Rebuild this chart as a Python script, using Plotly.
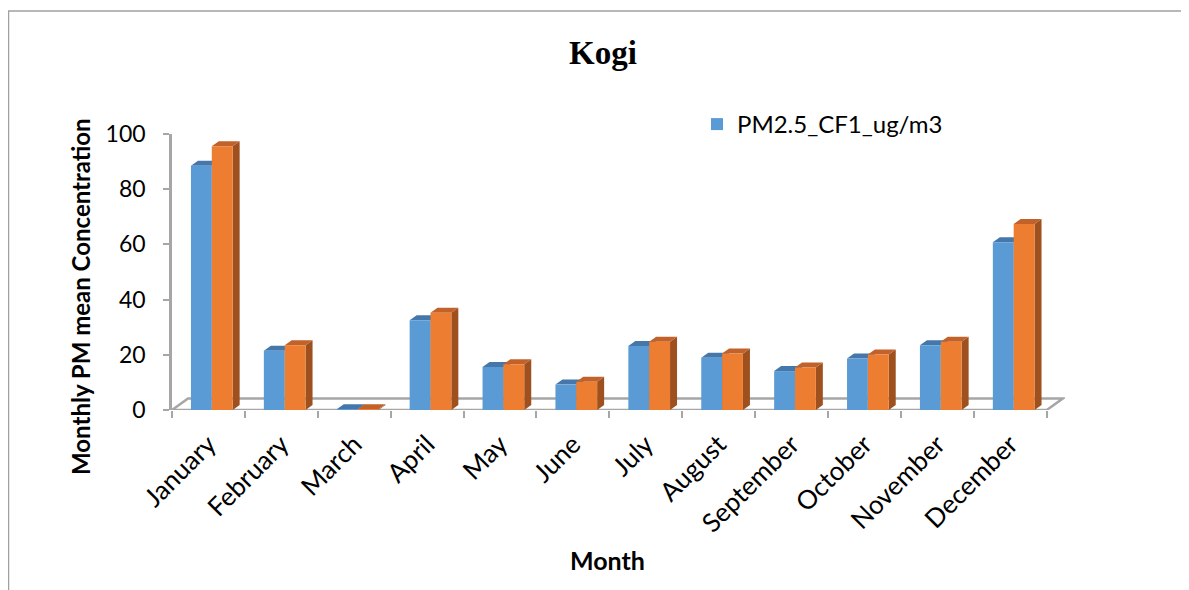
import numpy as np
import plotly.graph_objects as go

# ---- data ----
months = ["January", "February", "March", "April", "May", "June", "July",
          "August", "September", "October", "November", "December"]
pm25_cf1 = [88.5, 21.5, 0.3, 32.5, 15.6, 9.2, 23.2, 18.9, 14.1, 18.7, 23.5, 60.8]
series2 = [95.6, 23.5, 0.3, 35.2, 16.6, 10.2, 24.7, 20.5, 15.4, 20.1, 24.7, 67.4]
y_ticks = [0, 20, 40, 60, 80, 100]

# ---- layout geometry (page pixels; figure starts at body margin 8px) ----
OFF = 8
PW, PH = 1189, 590
W, H = PW - OFF, PH - OFF
L, R, T, B = 172, 1065, 134, 410
XR = [-0.5, 11.75]
YR = [0, 100]
pxu_x = (R - L) / (XR[1] - XR[0])
pxu_y = (B - T) / (YR[1] - YR[0])

def px2paper_x(px):
    return (px - L) / (R - L)

def px2paper_y(py):
    return (B - py) / (B - T)

BLUE, BLUE_TOP, BLUE_SIDE = "#5B9BD5", "#4677AB", "#3E6A98"
ORANGE, ORANGE_TOP, ORANGE_SIDE = "#ED7D31", "#C0622A", "#9E501E"
GRAY = "#A6A6A6"
FONT = "Lato"

bar_w = 0.286
off_blue = -0.24
off_orange = off_blue + bar_w
ddx = 7 / pxu_x   # depth offset in data units
ddy = 5 / pxu_y

x = np.arange(len(months))

fig = go.Figure()
fig.add_trace(go.Bar(x=x, y=pm25_cf1, name="PM2.5_CF1_ug/m3", marker_color=BLUE,
                     marker_line_width=0, width=bar_w, offset=off_blue))
fig.add_trace(go.Bar(x=x, y=series2, name="Series 2", marker_color=ORANGE,
                     marker_line_width=0, width=bar_w, offset=off_orange,
                     showlegend=False))

shapes = []
# floor
fdx = 16 / pxu_x
fdy = 11.5 / pxu_y
floor_path = (f"M {XR[0]},0 L {11.5},0 L {11.5 + fdx},{fdy} "
              f"L {XR[0] + fdx},{fdy} Z")
shapes.append(dict(type="path", path=floor_path, xref="x", yref="y",
                   line=dict(color=GRAY, width=2.5), fillcolor="rgba(255,255,255,0)",
                   layer="below"))

# 3D faces for bars
for vals, off, top_c, side_c in [(pm25_cf1, off_blue, BLUE_TOP, BLUE_SIDE),
                                 (series2, off_orange, ORANGE_TOP, ORANGE_SIDE)]:
    for xi, v in zip(x, vals):
        x0 = xi + off
        x1 = x0 + bar_w
        side = (f"M {x1},0 L {x1 + ddx},{ddy} L {x1 + ddx},{v + ddy} "
                f"L {x1},{v} Z")
        top = (f"M {x0},{v} L {x1},{v} L {x1 + ddx},{v + ddy} "
               f"L {x0 + ddx},{v + ddy} Z")
        shapes.append(dict(type="path", path=side, xref="x", yref="y",
                           fillcolor=side_c, line=dict(width=0), layer="below"))
        shapes.append(dict(type="path", path=top, xref="x", yref="y",
                           fillcolor=top_c, line=dict(width=0), layer="below"))

# chart border (left and top)
shapes.append(dict(type="line", xref="paper", yref="paper",
                   x0=px2paper_x(8.5), x1=px2paper_x(8.5), y0=px2paper_y(11), y1=px2paper_y(600),
                   line=dict(color="#A0A0A0", width=1.5)))
shapes.append(dict(type="line", xref="paper", yref="paper",
                   x0=px2paper_x(8), x1=px2paper_x(1200), y0=px2paper_y(11), y1=px2paper_y(11),
                   line=dict(color="#A0A0A0", width=1.5)))

annotations = [
    dict(text="<b>Kogi</b>", xref="paper", yref="paper",
         x=px2paper_x(603), y=px2paper_y(53), xanchor="center", yanchor="middle",
         showarrow=False, font=dict(family="Liberation Serif", size=33, color="black")),
    dict(text="<b>Monthly PM mean Concentration</b>", xref="paper", yref="paper",
         x=px2paper_x(80), y=px2paper_y(297), xanchor="center", yanchor="middle",
         textangle=-90, showarrow=False, font=dict(family=FONT, size=24, color="black")),
    dict(text="<b>Month</b>", xref="paper", yref="paper",
         x=px2paper_x(607), y=px2paper_y(560), xanchor="center", yanchor="middle",
         showarrow=False, font=dict(family=FONT, size=25, color="black")),
]

fig.update_layout(
    width=W, height=H,
    margin=dict(l=L - OFF, r=PW - R, t=T - OFF, b=PH - B, pad=0),
    paper_bgcolor="white", plot_bgcolor="rgba(0,0,0,0)",
    barmode="overlay",
    font=dict(family=FONT, size=23, color="black"),
    shapes=shapes, annotations=annotations,
    showlegend=True,
    legend=dict(x=px2paper_x(697), y=px2paper_y(102), xanchor="left", yanchor="top",
                font=dict(family=FONT, size=24, color="black"),
                bgcolor="rgba(0,0,0,0)", itemwidth=30),
)
fig.update_xaxes(range=XR, tickvals=list(x), ticktext=months, tickangle=-45,
                 ticks="", showline=False, showgrid=False, zeroline=False,
                 ticklabelstandoff=13,
                 tickfont=dict(family=FONT, size=26, color="black"),
                 minor=dict(tickvals=list(np.arange(-0.5, 12, 1.0)), ticks="outside",
                            ticklen=7, tickcolor=GRAY, tickwidth=2, showgrid=False))
fig.update_yaxes(range=YR, tickvals=y_ticks, ticks="outside", ticklen=6,
                 tickcolor=GRAY, tickwidth=2, showline=True, linecolor=GRAY, linewidth=2.5,
                 showgrid=False, zeroline=False, ticklabelstandoff=13,
                 tickfont=dict(family=FONT, size=23, color="black"))

fig.write_html("out.html")
